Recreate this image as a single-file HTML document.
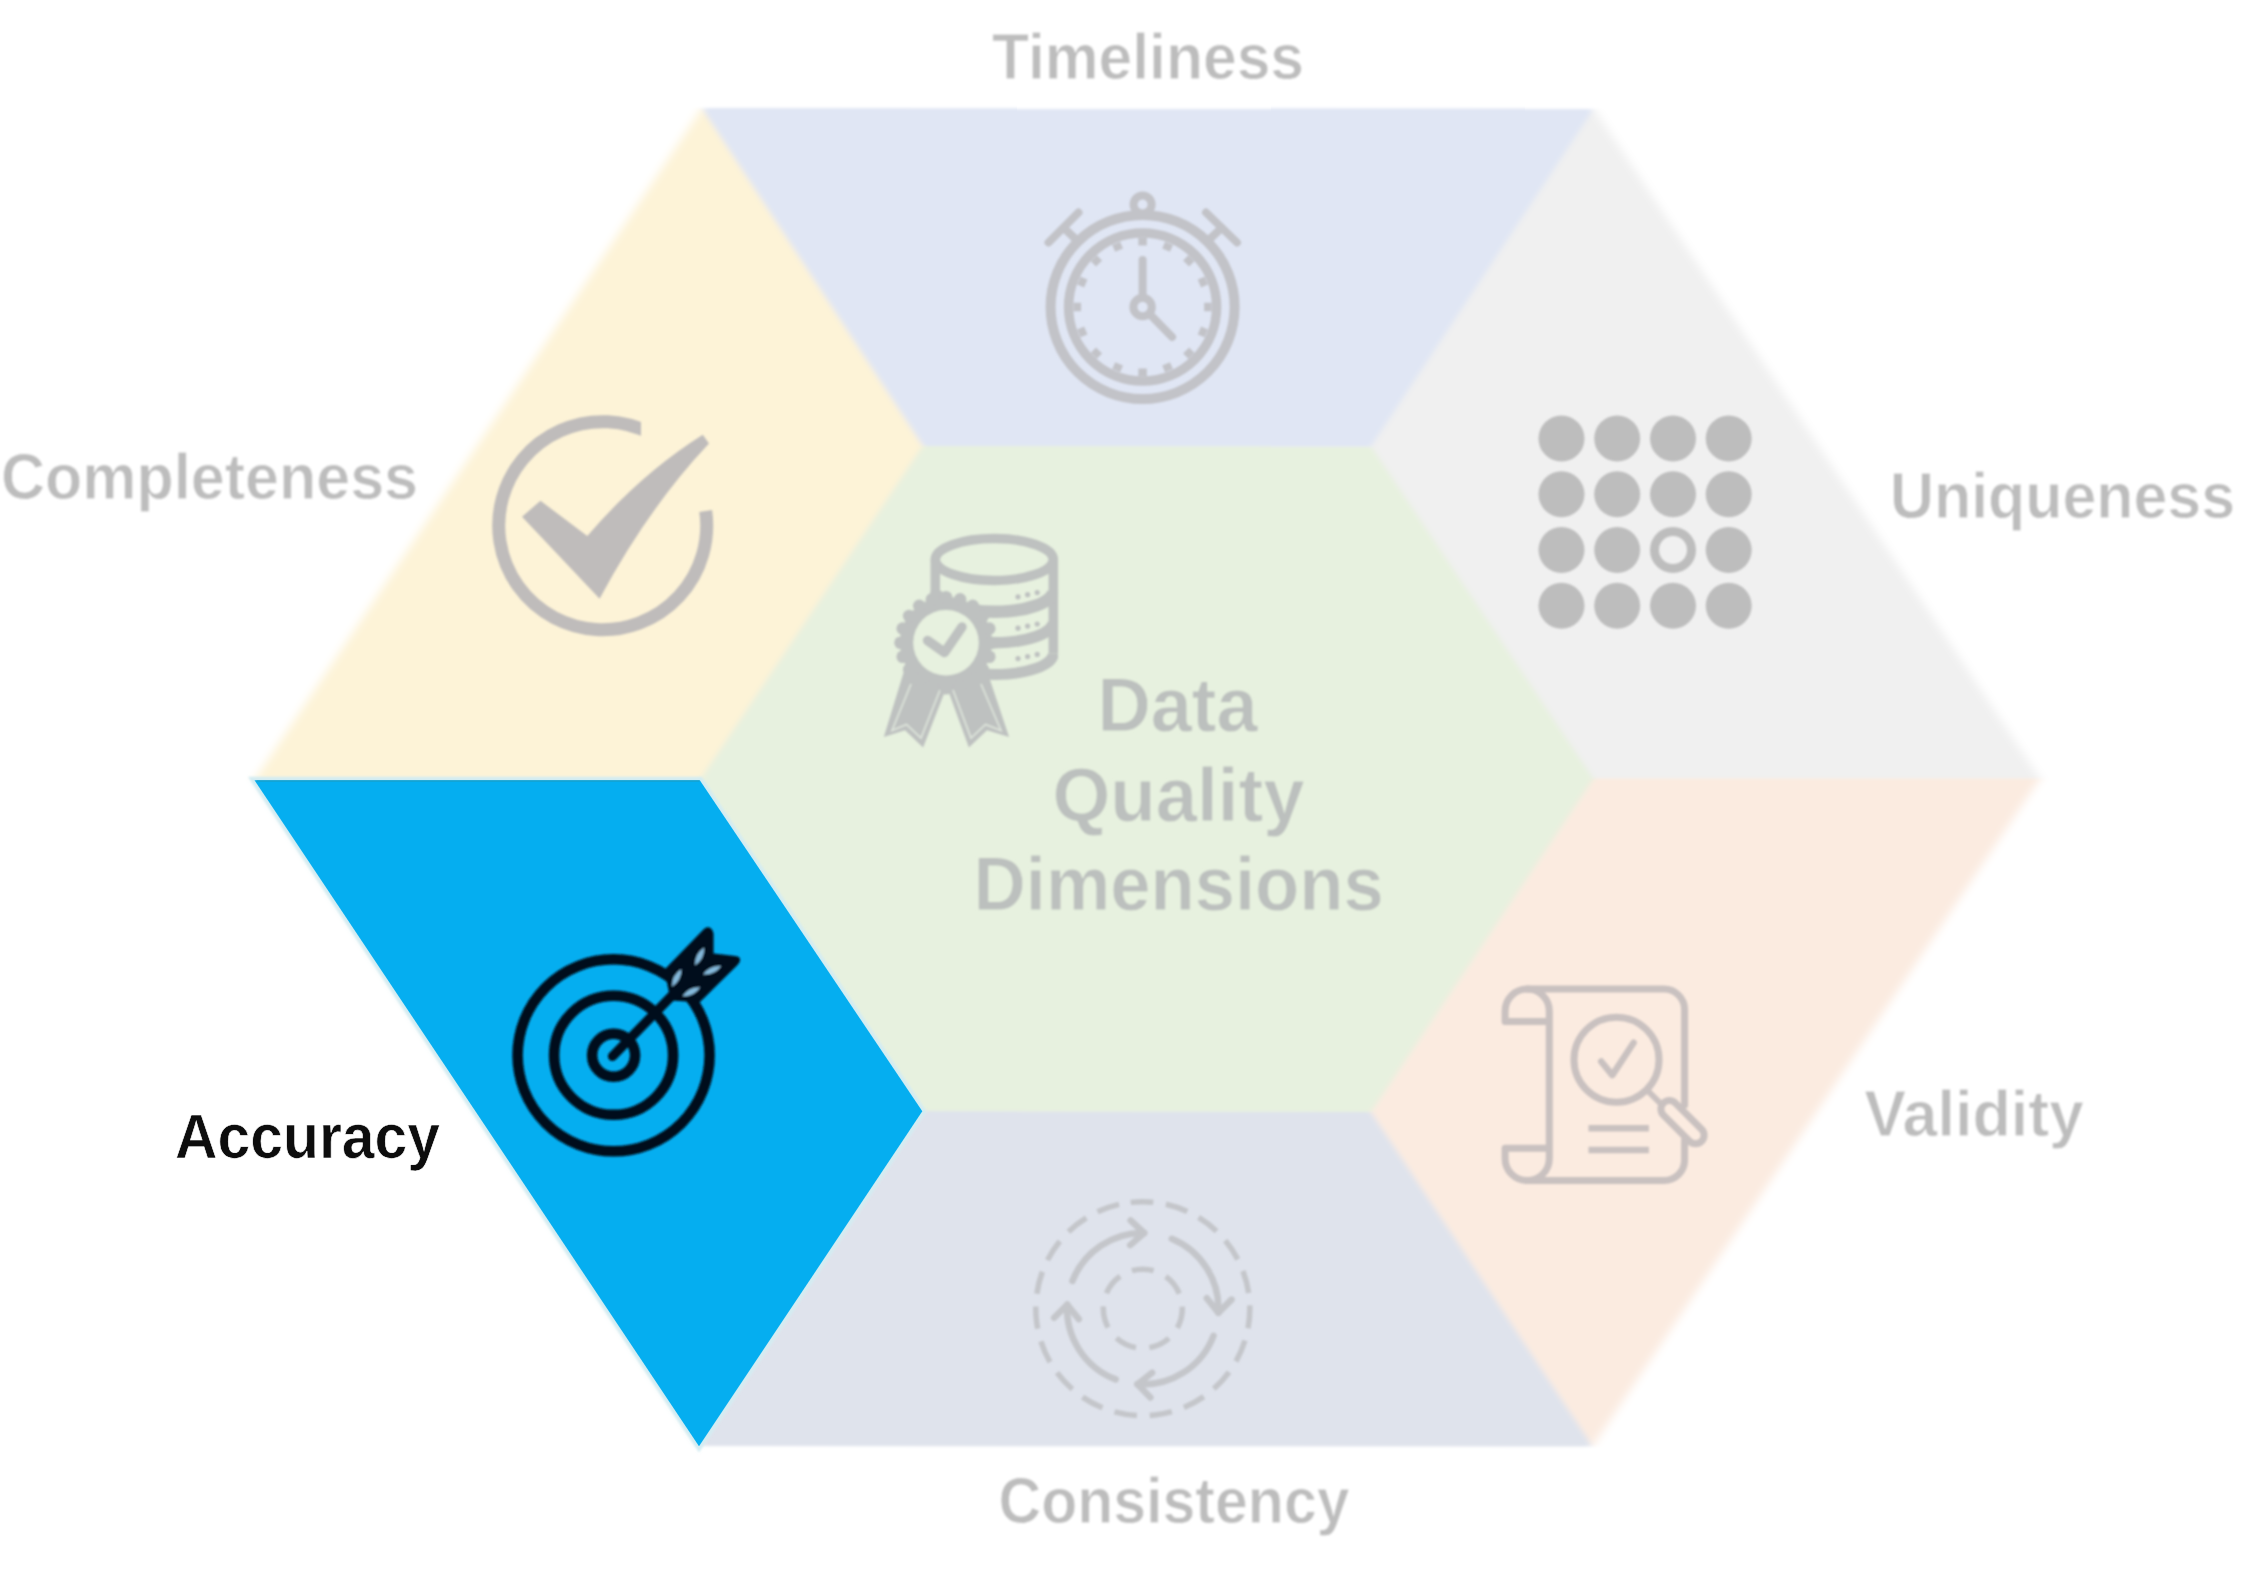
<!DOCTYPE html>
<html>
<head>
<meta charset="utf-8">
<title>Data Quality Dimensions</title>
<style>
  html, body { margin: 0; padding: 0; background: #ffffff; }
  body { width: 2245px; height: 1587px; overflow: hidden; font-family: "Liberation Sans", sans-serif; }
  svg { display: block; }
  text { font-family: "Liberation Sans", sans-serif; font-weight: bold; }
</style>
</head>
<body>
<svg width="2245" height="1587" viewBox="0 0 2245 1587">
  <defs>
    <filter id="soft" x="-5%" y="-5%" width="110%" height="110%">
      <feGaussianBlur stdDeviation="3 1.6"/>
    </filter>
    <filter id="feather" x="-5%" y="-5%" width="110%" height="110%">
      <feGaussianBlur stdDeviation="5.2 1.8"/>
    </filter>
    <filter id="fringe" x="-5%" y="-5%" width="110%" height="110%">
      <feGaussianBlur stdDeviation="1.3"/>
    </filter>
    <mask id="hexmask" maskUnits="userSpaceOnUse" x="0" y="0" width="2245" height="1587">
      <polygon points="702.0,108.0 1594.0,108.5 2040.0,778.5 1592.5,1446.5 699.0,1446.0 254.5,780.0" fill="#ffffff" filter="url(#feather)"/>
    </mask>
    <filter id="softIcon" x="-10%" y="-10%" width="120%" height="120%">
      <feGaussianBlur stdDeviation="0.9"/>
    </filter>
    <filter id="softIcon2" x="-10%" y="-10%" width="120%" height="120%">
      <feGaussianBlur stdDeviation="1.2"/>
    </filter>
    <filter id="softText2" x="-5%" y="-20%" width="110%" height="140%">
      <feGaussianBlur stdDeviation="0.6"/>
    </filter>
    <filter id="softText" x="-5%" y="-20%" width="110%" height="140%">
      <feGaussianBlur stdDeviation="0.9"/>
    </filter>
  </defs>

  <rect x="0" y="0" width="2245" height="1587" fill="#ffffff"/>

  <!-- ===== faded hexagon segments ===== -->
  <g id="segments" mask="url(#hexmask)">
    <g filter="url(#soft)">
      <polygon points="670.8,61.1 1625.3,61.6 2102.5,778.5 1623.7,1493.3 667.6,1492.7 192.0,780.1" fill="#eef0ee"/>
      <!-- Timeliness -->
      <polygon points="670.8,61.1 1625.3,61.6 1371.5,446.5 922.7,446.0" fill="#e0e6f4"/>
      <!-- Uniqueness -->
      <polygon points="1625.3,61.6 2102.5,778.5 1593.5,778.5 1371.5,446.5" fill="#f0f0f0"/>
      <!-- Validity -->
      <polygon points="2102.5,778.5 1623.7,1493.3 1371.0,1112.0 1593.5,778.5" fill="#fbebe0"/>
      <!-- Consistency -->
      <polygon points="1623.7,1493.3 667.6,1492.7 922.0,1111.0 1371.0,1112.0" fill="#dfe3ec"/>
      <!-- Completeness -->
      <polygon points="192.0,780.1 670.8,61.1 922.7,446.0 699.6,780.6" fill="#fdf3d7"/>
      <!-- AccuracyUnder -->
      <polygon points="667.6,1492.7 192.0,780.1 699.6,780.6 922.0,1111.0" fill="#e9f4f4"/>
      <!-- Center -->
      <polygon points="922.7,446.0 1371.5,446.5 1593.5,778.5 1371.0,1112.0 922.0,1111.0 699.6,780.6" fill="#e7f1df"/>
    </g>
  </g>

  <!-- Accuracy (bottom-left, highlighted) -->
  <g id="accuracy-seg">
    <polygon points="254.5,780.3 699.8,780.3 922.3,1111.3 699.0,1446.3" fill="none" stroke="#d3ecf2" stroke-width="7" stroke-linejoin="miter" filter="url(#fringe)"/>
    <polygon points="254.5,780.3 699.8,780.3 922.3,1111.3 699.0,1446.3" fill="#05aef0"/>
    <polyline points="256.5,781 699.4,781" fill="none" stroke="#1a9ec6" stroke-width="1.6" opacity="0.8"/>
  </g>

  <!-- ICONS_START -->
  <g id="icon-timeliness" fill="none" stroke="#c2c3c8" stroke-linecap="round" filter="url(#softIcon)">
  <circle cx="1142.6" cy="307.0" r="92" stroke-width="10"/>
  <circle cx="1142.6" cy="307.0" r="74" stroke-width="9.5"/>
  <line x1="1142.6" y1="238.0" x2="1142.6" y2="245.5" stroke-width="8.5" stroke-linecap="butt"/>
  <line x1="1169.0" y1="243.3" x2="1166.1" y2="250.2" stroke-width="8.5" stroke-linecap="butt"/>
  <line x1="1191.4" y1="258.2" x2="1186.1" y2="263.5" stroke-width="8.5" stroke-linecap="butt"/>
  <line x1="1206.3" y1="280.6" x2="1199.4" y2="283.5" stroke-width="8.5" stroke-linecap="butt"/>
  <line x1="1211.6" y1="307.0" x2="1204.1" y2="307.0" stroke-width="8.5" stroke-linecap="butt"/>
  <line x1="1206.3" y1="333.4" x2="1199.4" y2="330.5" stroke-width="8.5" stroke-linecap="butt"/>
  <line x1="1191.4" y1="355.8" x2="1186.1" y2="350.5" stroke-width="8.5" stroke-linecap="butt"/>
  <line x1="1169.0" y1="370.7" x2="1166.1" y2="363.8" stroke-width="8.5" stroke-linecap="butt"/>
  <line x1="1142.6" y1="376.0" x2="1142.6" y2="368.5" stroke-width="8.5" stroke-linecap="butt"/>
  <line x1="1116.2" y1="370.7" x2="1119.1" y2="363.8" stroke-width="8.5" stroke-linecap="butt"/>
  <line x1="1093.8" y1="355.8" x2="1099.1" y2="350.5" stroke-width="8.5" stroke-linecap="butt"/>
  <line x1="1078.9" y1="333.4" x2="1085.8" y2="330.5" stroke-width="8.5" stroke-linecap="butt"/>
  <line x1="1073.6" y1="307.0" x2="1081.1" y2="307.0" stroke-width="8.5" stroke-linecap="butt"/>
  <line x1="1078.9" y1="280.6" x2="1085.8" y2="283.5" stroke-width="8.5" stroke-linecap="butt"/>
  <line x1="1093.8" y1="258.2" x2="1099.1" y2="263.5" stroke-width="8.5" stroke-linecap="butt"/>
  <line x1="1116.2" y1="243.3" x2="1119.1" y2="250.2" stroke-width="8.5" stroke-linecap="butt"/>
  <circle cx="1142.6" cy="307.0" r="9.2" stroke-width="8"/>
  <line x1="1142.6" y1="294.0" x2="1142.6" y2="260.0" stroke-width="8"/>
  <line x1="1150.6" y1="315.0" x2="1172.1" y2="337.0" stroke-width="8"/>
  <circle cx="1142.6" cy="204.5" r="9" stroke-width="8"/>
  <line x1="1048.5" y1="242.5" x2="1078.5" y2="212.5" stroke-width="8"/>
  <line x1="1063.8" y1="227.9" x2="1076" y2="239.5" stroke-width="8"/>
  <line x1="1206" y1="212.5" x2="1237" y2="242.5" stroke-width="8"/>
  <line x1="1221.6" y1="227.9" x2="1209.3" y2="239.5" stroke-width="8"/>
  </g>
  <g id="icon-completeness" filter="url(#softIcon)">
  <clipPath id="arcclip"><path d="M 0 0 L 641 0 L 641 501.7 L 2245 501.7 L 2245 1587 L 0 1587 Z"/></clipPath>
  <path d="M 705.7 511 A 104 104 0 1 1 650 433" fill="none" stroke="#bfbcbb" stroke-width="13" clip-path="url(#arcclip)"/>
  <path d="M 522 516.7 L 540.5 500.8 L 587.3 536.1 Q 640.5 473.8 702.8 434.7 L 709 443.5 Q 648.9 506.9 599.6 598.7 Z" fill="#bfbcbb"/>
  </g>
  <g id="icon-uniqueness" fill="#bdbdbd" filter="url(#softIcon)">
  <circle cx="1561.5" cy="438.6" r="23"/>
  <circle cx="1617.2" cy="438.6" r="23"/>
  <circle cx="1673" cy="438.6" r="23"/>
  <circle cx="1728.7" cy="438.6" r="23"/>
  <circle cx="1561.5" cy="494.3" r="23"/>
  <circle cx="1617.2" cy="494.3" r="23"/>
  <circle cx="1673" cy="494.3" r="23"/>
  <circle cx="1728.7" cy="494.3" r="23"/>
  <circle cx="1561.5" cy="550" r="23"/>
  <circle cx="1617.2" cy="550" r="23"/>
  <circle cx="1673" cy="550" r="18.5" fill="none" stroke="#bdbdbd" stroke-width="9"/>
  <circle cx="1728.7" cy="550" r="23"/>
  <circle cx="1561.5" cy="605.8" r="23"/>
  <circle cx="1617.2" cy="605.8" r="23"/>
  <circle cx="1673" cy="605.8" r="23"/>
  <circle cx="1728.7" cy="605.8" r="23"/>
  </g>
  <g id="icon-center" filter="url(#softIcon)">
  <g fill="none" stroke="#bec1c0" stroke-width="9.5">
  <ellipse cx="994.3" cy="559.5" rx="59" ry="21"/>
  <path d="M 935.3 559.5 L 935.3 620"/>
  <path d="M 1053.3 559.5 L 1053.3 653.5"/>
  <clipPath id="cylclip"><rect x="930.55" y="500" width="127.5" height="200"/></clipPath>
  <g clip-path="url(#cylclip)">
  <path d="M 1053.3 590.8 A 59 21 0 0 1 935.3 590.8" stroke-width="12.5"/>
  <path d="M 1053.3 621.7 A 59 21 0 0 1 935.3 621.7" stroke-width="11.5"/>
  <path d="M 1053.3 653.5 A 59 21 0 0 1 935.3 653.5" stroke-width="11"/>
  </g>
  </g>
  <circle cx="1018.0" cy="596.8" r="2.6" fill="#bec1c0"/>
  <circle cx="1027.6" cy="594.7" r="2.6" fill="#bec1c0"/>
  <circle cx="1037.2" cy="592.6" r="2.6" fill="#bec1c0"/>
  <circle cx="1018.0" cy="628.2" r="2.6" fill="#bec1c0"/>
  <circle cx="1027.6" cy="626.1" r="2.6" fill="#bec1c0"/>
  <circle cx="1037.2" cy="624.0" r="2.6" fill="#bec1c0"/>
  <circle cx="1018.0" cy="658.6" r="2.6" fill="#bec1c0"/>
  <circle cx="1027.6" cy="656.5" r="2.6" fill="#bec1c0"/>
  <circle cx="1037.2" cy="654.4" r="2.6" fill="#bec1c0"/>
  <path d="M 905 668 L 883.8 736.9 L 905 730.3 L 923.1 747.5 L 947 686 Z" fill="#bec1c0"/>
  <path d="M 946.5 686 L 968.9 747.5 L 987 730.3 L 1009.1 736.9 L 986 668 Z" fill="#bec1c0"/>
  <path d="M 911 684 L 892 730.5 L 906.5 724.5 L 921 738 L 940 690" fill="none" stroke="#dfe6dc" stroke-width="1.6"/>
  <path d="M 953 690 L 971 738 L 985.5 724.5 L 1001 730.5 L 981 684" fill="none" stroke="#dfe6dc" stroke-width="1.6"/>
  <circle cx="946" cy="642.7" r="46" fill="#bec1c0"/>
  <circle cx="991.5" cy="642.7" r="6.3" fill="#bec1c0"/>
  <circle cx="989.3" cy="656.8" r="6.3" fill="#bec1c0"/>
  <circle cx="982.8" cy="669.4" r="6.3" fill="#bec1c0"/>
  <circle cx="972.7" cy="679.5" r="6.3" fill="#bec1c0"/>
  <circle cx="960.1" cy="686.0" r="6.3" fill="#bec1c0"/>
  <circle cx="946.0" cy="688.2" r="6.3" fill="#bec1c0"/>
  <circle cx="931.9" cy="686.0" r="6.3" fill="#bec1c0"/>
  <circle cx="919.3" cy="679.5" r="6.3" fill="#bec1c0"/>
  <circle cx="909.2" cy="669.4" r="6.3" fill="#bec1c0"/>
  <circle cx="902.7" cy="656.8" r="6.3" fill="#bec1c0"/>
  <circle cx="900.5" cy="642.7" r="6.3" fill="#bec1c0"/>
  <circle cx="902.7" cy="628.6" r="6.3" fill="#bec1c0"/>
  <circle cx="909.2" cy="616.0" r="6.3" fill="#bec1c0"/>
  <circle cx="919.3" cy="605.9" r="6.3" fill="#bec1c0"/>
  <circle cx="931.9" cy="599.4" r="6.3" fill="#bec1c0"/>
  <circle cx="946.0" cy="597.2" r="6.3" fill="#bec1c0"/>
  <circle cx="960.1" cy="599.4" r="6.3" fill="#bec1c0"/>
  <circle cx="972.7" cy="605.9" r="6.3" fill="#bec1c0"/>
  <circle cx="982.8" cy="616.0" r="6.3" fill="#bec1c0"/>
  <circle cx="989.3" cy="628.6" r="6.3" fill="#bec1c0"/>
  <circle cx="946" cy="642.7" r="32.8" fill="#e7f1df"/>
  <path d="M 927.5 640.5 L 944.5 652.5 L 962 627" fill="none" stroke="#bec1c0" stroke-width="9.5" stroke-linecap="round" stroke-linejoin="round"/>
  </g>
  <g id="icon-accuracy" filter="url(#softIcon2)">
  <g fill="none" stroke="#050b1a" stroke-width="10.5">
  <circle cx="613.6" cy="1055.3" r="96"/>
  <circle cx="613.6" cy="1055.3" r="59.5"/>
  <circle cx="613.6" cy="1055.3" r="21.5"/>
  <line x1="612.6" y1="1056.3" x2="676" y2="991.5" stroke-width="9.5" stroke-linecap="round"/>
  </g>
  <path d="M 664.4 969.7 L 703.5 929.5 Q 707.5 925.5 711 928.5 Q 713.8 931 713.5 936 L 713.5 953.4 L 735 956 Q 741 956.5 740 961 Q 739.5 963 737 965.5 L 699.7 1002.3 L 670.6 1000.6 Z" fill="#050b1a"/>
  <path d="M -10 0 Q 0 -5.6 10 0 Q 0 5.6 -10 0 Z" fill="#84b9dc" transform="translate(699.6 956.4) rotate(-63)"/>
  <path d="M -10 0 Q 0 -5.6 10 0 Q 0 5.6 -10 0 Z" fill="#84b9dc" transform="translate(676.7 977.9) rotate(-62)"/>
  <path d="M -10 0 Q 0 -5.6 10 0 Q 0 5.6 -10 0 Z" fill="#84b9dc" transform="translate(712.1 970.3) rotate(-25)"/>
  <path d="M -10 0 Q 0 -5.6 10 0 Q 0 5.6 -10 0 Z" fill="#84b9dc" transform="translate(691.3 991.8) rotate(-27)"/>
  </g>
  <g id="icon-validity" fill="none" stroke="#c9c1c0" stroke-width="7" stroke-linecap="round" stroke-linejoin="round" filter="url(#softIcon)">
  <path d="M 1527.2 989.1 L 1664 989.1 A 20.6 20.6 0 0 1 1684.6 1009.7 L 1684.6 1105"/>
  <path d="M 1684.6 1140 L 1684.6 1160 A 20.6 20.6 0 0 1 1664 1180.6 L 1527.2 1180.6"/>
  <path d="M 1549.3 1021.5 L 1505.1 1021.5 L 1505.1 1011.2 A 22.1 22.1 0 0 1 1549.3 1011.2 L 1549.3 1158.5 A 22.1 22.1 0 0 1 1505.1 1158.5 L 1505.1 1148.2 L 1549.3 1148.2"/>
  <circle cx="1616.5" cy="1059.7" r="42.5"/>
  <line x1="1648.5" y1="1091.5" x2="1662" y2="1105" stroke-width="6"/>
  <rect x="1655.5" y="1113.7" width="54" height="17" rx="8.5" ry="8.5" transform="rotate(45 1682.5 1122.2)"/>
  <path d="M 1601.2 1061.5 L 1612.3 1075.1 L 1633.6 1042.7" stroke-width="6.5"/>
  <line x1="1588.5" y1="1128.3" x2="1648.9" y2="1128.3" stroke-width="6.5" stroke-linecap="butt"/>
  <line x1="1588.5" y1="1149.9" x2="1648.9" y2="1149.9" stroke-width="6.5" stroke-linecap="butt"/>
  </g>
  <g id="icon-consistency" fill="none" stroke="#c4c6ca" stroke-linecap="butt" filter="url(#softIcon)">
  <circle cx="1142.8" cy="1308.7" r="107" stroke-width="5.5" stroke-dasharray="22.65 12.74" transform="rotate(-96.5 1142.8 1308.7)"/>
  <circle cx="1142.8" cy="1308.7" r="39.5" stroke-width="5.5" stroke-dasharray="21.98 13.47" transform="rotate(-106 1142.8 1308.7)"/>
  <path d="M 1072.4 1281.0 A 75.7 75.7 0 0 1 1144.1 1233.0" stroke-width="6.5" stroke-linecap="round"/>
  <line x1="1144.1" y1="1233.0" x2="1130.2" y2="1245.1" stroke-width="6.5" stroke-linecap="round"/>
  <line x1="1144.1" y1="1233.0" x2="1130.6" y2="1220.4" stroke-width="6.5" stroke-linecap="round"/>
  <path d="M 1171.8 1238.8 A 75.7 75.7 0 0 1 1218.4 1312.7" stroke-width="6.5" stroke-linecap="round"/>
  <line x1="1218.4" y1="1312.7" x2="1206.8" y2="1298.3" stroke-width="6.5" stroke-linecap="round"/>
  <line x1="1218.4" y1="1312.7" x2="1231.5" y2="1299.6" stroke-width="6.5" stroke-linecap="round"/>
  <path d="M 1213.5 1335.8 A 75.7 75.7 0 0 1 1137.5 1384.2" stroke-width="6.5" stroke-linecap="round"/>
  <line x1="1137.5" y1="1384.2" x2="1152.1" y2="1372.8" stroke-width="6.5" stroke-linecap="round"/>
  <line x1="1137.5" y1="1384.2" x2="1150.4" y2="1397.5" stroke-width="6.5" stroke-linecap="round"/>
  <path d="M 1115.7 1379.4 A 75.7 75.7 0 0 1 1067.2 1304.7" stroke-width="6.5" stroke-linecap="round"/>
  <line x1="1067.2" y1="1304.7" x2="1078.8" y2="1319.1" stroke-width="6.5" stroke-linecap="round"/>
  <line x1="1067.2" y1="1304.7" x2="1054.1" y2="1317.8" stroke-width="6.5" stroke-linecap="round"/>
  </g>
  <!-- ICONS_END -->

  <!-- LABELS_START -->
  <text x="992.0" y="78.7" font-size="64" textLength="312.0" lengthAdjust="spacingAndGlyphs" stroke="#ffffff" stroke-width="0.8" fill="#bdbdbd" filter="url(#softText)">Timeliness</text>
  <text x="1.0" y="499.4" font-size="65" textLength="417.0" lengthAdjust="spacingAndGlyphs" stroke="#ffffff" stroke-width="0.8" fill="#bdbdbd" filter="url(#softText)">Completeness</text>
  <text x="1890.0" y="518.0" font-size="65" textLength="345.0" lengthAdjust="spacingAndGlyphs" stroke="#ffffff" stroke-width="0.8" fill="#bdbdbd" filter="url(#softText)">Uniqueness</text>
  <text x="1864.2" y="1135.5" font-size="64" textLength="219.8" lengthAdjust="spacingAndGlyphs" stroke="#ffffff" stroke-width="0.8" fill="#bdbdbd" filter="url(#softText)">Validity</text>
  <text x="175.1" y="1157.5" font-size="63" textLength="264.9" lengthAdjust="spacingAndGlyphs" stroke="#ffffff" stroke-width="0.7" fill="#0a0a0a" filter="url(#softText2)">Accuracy</text>
  <text x="998.5" y="1523.0" font-size="65" textLength="351.1" lengthAdjust="spacingAndGlyphs" stroke="#ffffff" stroke-width="0.8" fill="#bdbdbd" filter="url(#softText)">Consistency</text>
  <text x="1097.5" y="731.2" font-size="76" textLength="160.0" lengthAdjust="spacingAndGlyphs" stroke="#e7f1df" stroke-width="0.8" fill="#bcc0be" filter="url(#softText)">Data</text>
  <text x="1052.5" y="821.0" font-size="76" textLength="252.0" lengthAdjust="spacingAndGlyphs" stroke="#e7f1df" stroke-width="0.8" fill="#bcc0be" filter="url(#softText)">Quality</text>
  <text x="973.5" y="909.8" font-size="76" textLength="410.3" lengthAdjust="spacingAndGlyphs" stroke="#e7f1df" stroke-width="0.8" fill="#bcc0be" filter="url(#softText)">Dimensions</text>
  <!-- LABELS_END -->
</svg>
</body>
</html>
